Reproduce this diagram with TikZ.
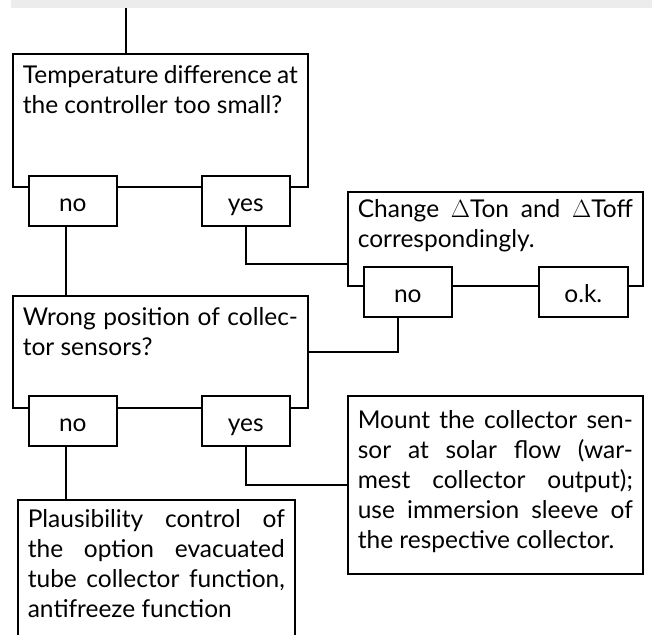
\documentclass[tikz,border=0pt]{standalone}
\usepackage{fontspec}
\setmainfont{Lato}
\usetikzlibrary{positioning}
\tikzset{
    query/.style={draw, line width=1.6pt, fill=white, anchor=north west,
        text width=275pt, inner xsep=10pt, inner ysep=0pt, align=justify,
        font=\fontsize{24.5}{30}\selectfont},
    answer/.style={draw, line width=1.6pt, fill=white, anchor=north west,
        minimum width=88pt, minimum height=50pt, inner sep=0pt,
        text height=22pt, text depth=0pt,
        font=\fontsize{24.5}{30}\selectfont},
    link/.style={line width=1.6pt}
}
\begin{document}
\begin{tikzpicture}[x=1pt,y=-1pt]
    \clip (0,0) rectangle (652,634);
    \fill[gray!15] (11,0) rectangle (652,8);
    \coordinate (top) at (126,8);
    \node[query, text height=30pt, text depth=103pt] (q1) at (12,53) {Temperature difference at\linebreak the controller too small?};
    \node[query, text height=26pt, text depth=68pt] (change) at (347,191) {Change $\Delta$Ton and $\Delta$Toff\linebreak correspondingly.};
    \node[query, text height=30pt, text depth=82pt] (q2) at (12,295) {Wrong position of collec-\linebreak tor sensors?};
    \node[query, text height=33pt, text depth=145pt] (mount) at (347,395) {Mount the collector sen-\linebreak sor at solar flow (war-\linebreak mest collector output);\linebreak use immersion sleeve of\linebreak the respective collector.};
    \node[query, text width=257pt, text height=28pt, text depth=130pt] (plaus) at (17,499) {Plausibility control of\linebreak the option evacuated\linebreak tube collector function,\linebreak antifreeze function};
    \node[answer] (no1) at (28,175) {no};
    \node[answer] (yes1) at (201,175) {yes};
    \node[answer] (cno) at (363,266) {no};
    \node[answer, minimum width=89pt] (cok) at (538,266) {o.k.};
    \node[answer] (no2) at (28,395) {no};
    \node[answer] (yes2) at (201,395) {yes};
    \draw[link] (top) -- (top |- q1.north);
    \draw[link] ([xshift=-7pt]no1.south) -- ([xshift=-7pt]no1.south |- q2.north);
    \draw[link] (yes1.south) |- (change.west |- 0,264);
    \draw[link] ([xshift=-10pt]cno.south) |- (q2.east);
    \draw[link] ([xshift=-7pt]no2.south) -- ([xshift=-7pt]no2.south |- plaus.north);
    \draw[link] (yes2.south) |- (mount.west);
\end{tikzpicture}
\end{document}
